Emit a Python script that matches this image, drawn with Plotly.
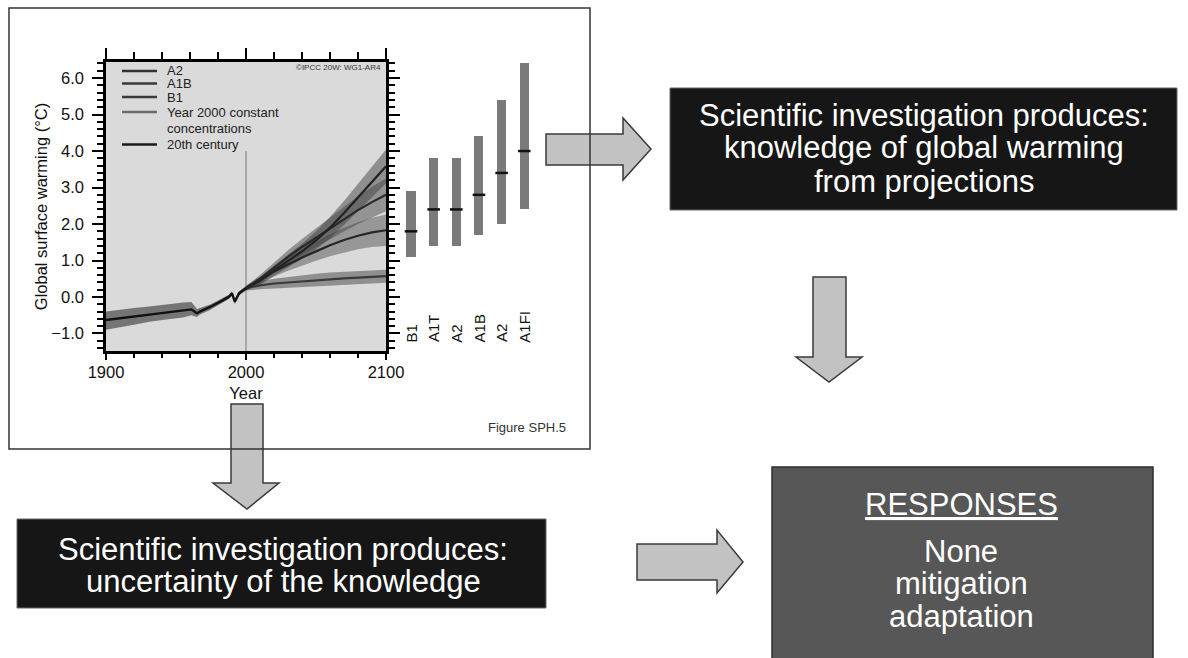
import plotly.graph_objects as go

# ---------------- data ----------------
hist_years = [1900, 1910, 1920, 1931, 1943, 1955, 1961, 1965, 1967, 1974, 1979, 1983, 1988, 1990, 1992, 1995, 2000]
hist_mean = [-0.63, -0.58, -0.54, -0.47, -0.43, -0.37, -0.34, -0.45, -0.40, -0.28, -0.19, -0.10, 0.01, 0.10, -0.13, 0.10, 0.24]
hist_hi = [-0.40, -0.34, -0.30, -0.26, -0.20, -0.15, -0.14, -0.33, -0.30, -0.21, -0.12, -0.04, 0.07, 0.16, -0.06, 0.16, 0.30]
hist_lo = [-0.90, -0.82, -0.76, -0.68, -0.62, -0.56, -0.50, -0.55, -0.48, -0.36, -0.26, -0.16, -0.05, 0.04, -0.20, 0.04, 0.18]

proj_years = [2000, 2010, 2020, 2030, 2040, 2050, 2060, 2070, 2080, 2090, 2100]
a2_mean = [0.24, 0.45, 0.72, 0.98, 1.25, 1.55, 1.90, 2.30, 2.72, 3.15, 3.58]
a2_hi = [0.30, 0.55, 0.86, 1.16, 1.46, 1.80, 2.19, 2.63, 3.10, 3.57, 4.04]
a2_lo = [0.18, 0.35, 0.58, 0.80, 1.04, 1.30, 1.61, 1.97, 2.34, 2.73, 3.12]
a1b_mean = [0.24, 0.50, 0.80, 1.10, 1.37, 1.62, 1.88, 2.14, 2.38, 2.60, 2.80]
a1b_hi = [0.30, 0.60, 0.94, 1.28, 1.59, 1.88, 2.18, 2.48, 2.76, 3.02, 3.25]
a1b_lo = [0.18, 0.40, 0.66, 0.92, 1.15, 1.36, 1.58, 1.80, 2.00, 2.18, 2.35]
b1_mean = [0.24, 0.45, 0.70, 0.90, 1.08, 1.25, 1.42, 1.56, 1.68, 1.77, 1.83]
b1_hi = [0.30, 0.55, 0.84, 1.08, 1.30, 1.51, 1.72, 1.90, 2.05, 2.17, 2.26]
b1_lo = [0.18, 0.35, 0.56, 0.72, 0.86, 0.99, 1.12, 1.22, 1.31, 1.37, 1.40]
const_mean = [0.24, 0.32, 0.37, 0.40, 0.44, 0.47, 0.49, 0.51, 0.53, 0.55, 0.57]
const_hi = [0.30, 0.43, 0.50, 0.55, 0.60, 0.64, 0.67, 0.69, 0.71, 0.73, 0.75]
const_lo = [0.18, 0.21, 0.24, 0.26, 0.29, 0.31, 0.32, 0.34, 0.36, 0.37, 0.39]

bar_labels = ["B1", "A1T", "A2", "A1B", "A2", "A1FI"]
bar_low = [1.1, 1.4, 1.4, 1.7, 2.0, 2.4]
bar_high = [2.9, 3.8, 3.8, 4.4, 5.4, 6.4]
bar_best = [1.8, 2.4, 2.4, 2.8, 3.4, 4.0]

x_ticks = [1900, 2000, 2100]
legend_labels = ["A2", "A1B", "B1", "Year 2000 constant", "concentrations", "20th century"]

# ---------------- helpers ----------------
W, H = 1188, 658
FONT = "Liberation Sans, Arial, sans-serif"


def px(x):
    return x / W


def py(y):
    return 1 - y / H


def band(xs, hi, lo, color):
    return go.Scatter(x=xs + xs[::-1], y=hi + lo[::-1], fill="toself", fillcolor=color,
                      line=dict(width=0), mode="lines", hoverinfo="skip", showlegend=False)


def poly(points):
    d = "M " + " L ".join(f"{px(x):.5f},{py(y):.5f}" for x, y in points) + " Z"
    return d


fig = go.Figure()

# bands
fig.add_trace(band(hist_years, hist_hi, hist_lo, "rgba(45,45,45,0.58)"))
fig.add_trace(band(proj_years, const_hi, const_lo, "rgba(60,60,60,0.48)"))
fig.add_trace(band(proj_years, b1_hi, b1_lo, "rgba(60,60,60,0.42)"))
fig.add_trace(band(proj_years, a1b_hi, a1b_lo, "rgba(60,60,60,0.45)"))
fig.add_trace(band(proj_years, a2_hi, a2_lo, "rgba(60,60,60,0.48)"))

# lines
for ys, col in [(const_mean, "#3a3a3a"), (b1_mean, "#262626"), (a1b_mean, "#2a2a2a"), (a2_mean, "#222222")]:
    fig.add_trace(go.Scatter(x=proj_years, y=ys, mode="lines", line=dict(color=col, width=2.2),
                             hoverinfo="skip", showlegend=False))
fig.add_trace(go.Scatter(x=hist_years, y=hist_mean, mode="lines", line=dict(color="#111111", width=2.4),
                         hoverinfo="skip", showlegend=False))

# bars on side axis
idx = list(range(len(bar_labels)))
fig.add_trace(go.Bar(x=idx, y=[h - l for h, l in zip(bar_high, bar_low)], base=bar_low, width=0.4,
                     marker=dict(color="#7a7a7a", line=dict(width=0)), xaxis="x2", yaxis="y",
                     hoverinfo="skip", showlegend=False))
fig.add_trace(go.Scatter(x=idx, y=bar_best, mode="markers", xaxis="x2", yaxis="y",
                         marker=dict(symbol="line-ew", size=9, line=dict(width=2.5, color="#111111")),
                         hoverinfo="skip", showlegend=False))
# dummy for top axis
fig.add_trace(go.Scatter(x=[], y=[], xaxis="x3", yaxis="y", showlegend=False))

shapes = []
# chart frame fill
shapes.append(dict(type="rect", xref="paper", yref="paper", x0=px(9), x1=px(590), y0=py(449), y1=py(8),
                   fillcolor="white", line=dict(width=0), layer="below"))
# arrows
arrow_style = dict(type="path", xref="paper", yref="paper", fillcolor="#c2c2c2",
                   line=dict(color="#3a3a3a", width=1.5), layer="below")
shapes.append(dict(path=poly([(546, 134), (623, 134), (623, 118), (651, 149), (623, 180), (623, 165), (546, 165)]), **arrow_style))
shapes.append(dict(path=poly([(813, 277), (846, 277), (846, 357), (862, 357), (829, 382), (796, 357), (813, 357)]), **arrow_style))
shapes.append(dict(path=poly([(231, 404), (263, 404), (263, 483), (279, 483), (247, 509), (213, 483), (231, 483)]), **arrow_style))
shapes.append(dict(path=poly([(637, 544), (717, 544), (717, 530), (743, 562), (717, 593), (717, 580), (637, 580)]), **arrow_style))
# chart frame border on top of arrows
shapes.append(dict(type="rect", xref="paper", yref="paper", x0=px(9), x1=px(590), y0=py(449), y1=py(8),
                   fillcolor="rgba(0,0,0,0)", line=dict(color="#333333", width=1.5), layer="below"))
# text boxes
shapes.append(dict(type="rect", xref="paper", yref="paper", x0=px(670), x1=px(1177), y0=py(210), y1=py(88),
                   fillcolor="#161616", line=dict(color="#666666", width=1), layer="below"))
shapes.append(dict(type="rect", xref="paper", yref="paper", x0=px(17), x1=px(546), y0=py(608), y1=py(519),
                   fillcolor="#161616", line=dict(color="#666666", width=1), layer="below"))
shapes.append(dict(type="rect", xref="paper", yref="paper", x0=px(772), x1=px(1153), y0=py(662), y1=py(467),
                   fillcolor="#575757", line=dict(color="#2e2e2e", width=1.5), layer="below"))
# plot background and 2000 line
shapes.append(dict(type="rect", xref="x domain", yref="y domain", x0=0, x1=1, y0=0, y1=1,
                   fillcolor="#dadada", line=dict(width=0), layer="below"))
shapes.append(dict(type="line", xref="x", yref="y", x0=2000, x1=2000, y0=-1.48, y1=4.0,
                   line=dict(color="#7a7a7a", width=1), layer="below"))

annotations = []
# legend
leg_y = [71, 83.5, 97, 112, 128, 144.5]
leg_cols = ["#333333", "#3a3a3a", "#3a3a3a", "#6a6a6a", None, "#1a1a1a"]
for lab, yy, col in zip(legend_labels, leg_y, leg_cols):
    if col:
        shapes.append(dict(type="line", xref="paper", yref="paper", x0=px(122), x1=px(157), y0=py(yy), y1=py(yy),
                           line=dict(color=col, width=2.5), layer="above"))
    annotations.append(dict(text=lab, xref="paper", yref="paper", x=px(165), y=py(yy), xanchor="left",
                            yanchor="middle", showarrow=False, font=dict(size=13, color="#222222", family=FONT)))
annotations.append(dict(text="©IPCC 20W: WG1-AR4", xref="paper", yref="paper", x=px(383), y=py(67),
                        xanchor="right", yanchor="middle", showarrow=False,
                        font=dict(size=8, color="#333333", family=FONT)))
annotations.append(dict(text="Figure SPH.5", xref="paper", yref="paper", x=px(568), y=py(427),
                        xanchor="right", yanchor="middle", showarrow=False,
                        font=dict(size=13, color="#333333", family=FONT)))
# bar labels
for i, lab in zip(idx, bar_labels):
    annotations.append(dict(text=lab, xref="x2", yref="y", x=i, y=-1.30, textangle=-90, xanchor="center",
                            yanchor="bottom", showarrow=False, font=dict(size=15, color="#111111", family=FONT)))
# box texts
box_font = dict(size=31, color="white", family=FONT)
for txt, yy in [("Scientific investigation produces:", 115), ("knowledge of global warming", 148),
                ("from projections", 181)]:
    annotations.append(dict(text=txt, xref="paper", yref="paper", x=px(924), y=py(yy), xanchor="center",
                            yanchor="middle", showarrow=False, font=box_font))
for txt, yy in [("Scientific investigation produces:", 549), ("uncertainty of the knowledge", 581)]:
    annotations.append(dict(text=txt, xref="paper", yref="paper", x=px(283), y=py(yy), xanchor="center",
                            yanchor="middle", showarrow=False, font=box_font))
annotations.append(dict(text="RESPONSES", xref="paper", yref="paper", x=px(961), y=py(504), xanchor="center",
                        yanchor="middle", showarrow=False,
                        font=dict(size=31, color="white", family=FONT, lineposition="under")))
for txt, yy in [("None", 551), ("mitigation", 583), ("adaptation", 616)]:
    annotations.append(dict(text=txt, xref="paper", yref="paper", x=px(961), y=py(yy), xanchor="center",
                            yanchor="middle", showarrow=False, font=box_font))

fig.update_layout(
    width=W, height=H, autosize=False,
    margin=dict(l=0, r=0, t=0, b=0, autoexpand=False),
    paper_bgcolor="white", plot_bgcolor="rgba(0,0,0,0)",
    showlegend=False, bargap=0,
    font=dict(family=FONT, color="#111111"),
    xaxis=dict(domain=[px(106), px(386)], range=[1900, 2100], anchor="y", tickmode="array", tickvals=x_ticks,
               ticks="outside", ticklen=6, tickwidth=2, tickcolor="black", showline=True, linewidth=2.5,
               linecolor="black", showgrid=False, zeroline=False, ticklabelstandoff=-2, automargin=False,
               minor=dict(dtick=20, tick0=1900, ticks="outside", ticklen=4, tickwidth=2, tickcolor="black",
                          showgrid=False),
               tickfont=dict(size=16.5, color="#111111"),
               title=dict(text="Year", font=dict(size=16.5, color="#111111"), standoff=8)),
    xaxis2=dict(domain=[px(398), px(540)], range=[-0.574, 5.695], anchor="y", visible=False, automargin=False),
    xaxis3=dict(overlaying="x", side="top", anchor="y", range=[1900, 2100], tickmode="array", tickvals=x_ticks,
                showticklabels=False, ticks="outside", ticklen=11, tickwidth=2, tickcolor="black",
                showline=True, linewidth=2.5, linecolor="black", showgrid=False, zeroline=False, automargin=False,
                minor=dict(dtick=20, tick0=1900, ticks="outside", ticklen=7, tickwidth=2, tickcolor="black",
                           showgrid=False)),
    yaxis=dict(domain=[py(351), py(62)], range=[-1.48, 6.44], anchor="x", dtick=1, tick0=0, tickformat=".1f",
               ticks="outside", ticklen=11, tickwidth=2, tickcolor="black", showline=True, linewidth=2.5,
               linecolor="black", mirror="ticks", showgrid=False, zeroline=False, ticklabelstandoff=5,
               automargin=False,
               minor=dict(dtick=0.2, tick0=0, ticks="outside", ticklen=6, tickwidth=1.5, tickcolor="black",
                          showgrid=False),
               tickfont=dict(size=16.5, color="#111111"),
               title=dict(text="Global surface warming (°C)", font=dict(size=16.5, color="#111111"), standoff=0)),
    shapes=shapes,
    annotations=annotations,
)

fig.write_html("out.html", config={"displayModeBar": False},
               post_script="document.body.style.margin='0';document.body.style.overflow='hidden';")
